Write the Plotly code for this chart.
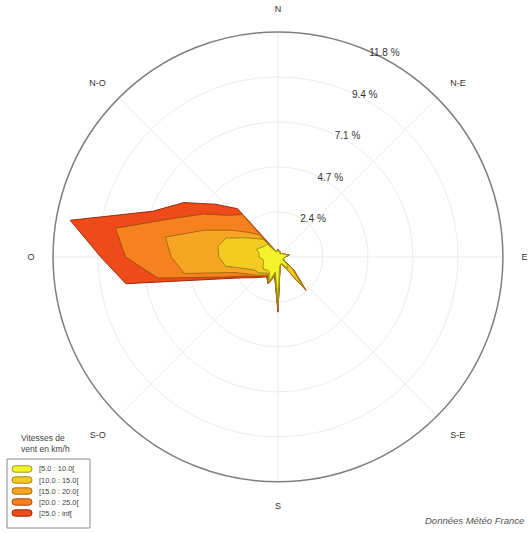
import numpy as np
import plotly.graph_objects as go

# Wind directions (degrees, every 10°)
directions = list(range(0, 360, 10))

# Frequency (%) of each speed class per direction
speed_classes = ["[5.0 : 10.0[", "[10.0 : 15.0[", "[15.0 : 20.0[", "[20.0 : 25.0[", "[25.0 : inf["]

freq_5_10 = [0.30, 0.30, 0.30, 0.20, 0.20, 0.30, 0.30, 0.40, 0.50, 0.40, 0.30, 0.30,
             0.30, 0.60, 0.80, 0.40, 0.40, 0.50, 2.30, 0.80, 1.40, 0.90, 0.90, 1.00,
             0.90, 0.80, 0.80, 1.00, 1.00, 1.20, 1.00, 0.90, 0.90, 0.40, 0.30, 0.30]
freq_10_15 = [0.05, 0.00, 0.00, 0.00, 0.00, 0.00, 0.00, 0.00, 0.05, 0.00, 0.00, 0.00,
              0.05, 0.40, 1.30, 0.10, 0.00, 0.10, 0.30, 0.10, 0.05, 0.10, 0.20, 0.30,
              0.50, 1.00, 2.00, 2.10, 2.20, 1.70, 1.00, 0.60, 0.30, 0.05, 0.00, 0.00]
freq_15_20 = [0.05, 0.00, 0.00, 0.00, 0.00, 0.00, 0.00, 0.00, 0.05, 0.00, 0.00, 0.00,
              0.05, 0.10, 0.10, 0.00, 0.00, 0.00, 0.15, 0.10, 0.05, 0.10, 0.15, 0.20,
              0.40, 0.60, 2.20, 2.50, 2.80, 1.20, 0.80, 0.50, 0.30, 0.05, 0.00, 0.00]
freq_20_25 = [0.00, 0.00, 0.00, 0.00, 0.00, 0.00, 0.00, 0.00, 0.00, 0.00, 0.00, 0.00,
              0.00, 0.00, 0.05, 0.00, 0.00, 0.00, 0.10, 0.00, 0.00, 0.05, 0.10, 0.10,
              0.20, 0.70, 1.40, 2.40, 2.66, 1.80, 1.70, 1.40, 1.40, 0.00, 0.00, 0.00]
freq_25_inf = [0.00, 0.00, 0.00, 0.00, 0.00, 0.00, 0.00, 0.00, 0.00, 0.00, 0.00, 0.00,
               0.00, 0.00, 0.05, 0.00, 0.00, 0.00, 0.05, 0.00, 0.00, 0.05, 0.05, 0.10,
               0.20, 0.30, 1.70, 1.30, 2.41, 1.10, 1.20, 0.90, 0.40, 0.10, 0.00, 0.00]

fill_colors = ["#f4f22a", "#f3cb22", "#f6a623", "#f5821e", "#ef4a1a"]
edge_colors = ["#9a9a10", "#a08410", "#a86a10", "#a84c0c", "#9a2a08"]

radial_ticks = [2.36, 4.72, 7.08, 9.44, 11.8]
radial_labels = ["2.4 %", "4.7 %", "7.1 %", "9.4 %", "11.8 %"]
compass_angles = [0, 45, 90, 135, 180, 225, 270, 315]
compass_labels = ["N", "N-E", "E", "S-E", "S", "S-O", "O", "N-O"]

W, H = 530, 533


def px(x, y):
    """Pixel position -> paper coordinates."""
    return x / W, 1 - y / H


# Stacked (cumulative) frequencies: each class is drawn as the area up to its upper bound
stack = np.cumsum(np.array([freq_5_10, freq_10_15, freq_15_20, freq_20_25, freq_25_inf]), axis=0)

fig = go.Figure()
# Largest envelope first so the smaller classes sit on top
for i in reversed(range(len(speed_classes))):
    r = list(stack[i]) + [stack[i][0]]
    theta = directions + [directions[0]]
    fig.add_trace(go.Scatterpolar(
        r=r, theta=theta, mode="lines", fill="toself",
        fillcolor=fill_colors[i],
        line=dict(color=edge_colors[i], width=1),
        name=speed_classes[i],
        hoverinfo="skip",
        showlegend=False,
    ))

# Legend panel: framed box with rounded colour swatches, title above it
shapes = []
annotations = []
bx0, by0 = px(7, 459)
bx1, by1 = px(90, 528)
shapes.append(dict(type="rect", xref="paper", yref="paper", x0=bx0, y0=by1, x1=bx1, y1=by0,
                   line=dict(color="#8a8a8a", width=1), fillcolor="white", layer="above"))
for i, label in enumerate(speed_classes):
    cy = 469 + 11 * i
    sx0, sx1, hh, rr = 12, 32, 3.2, 3.2
    # rounded swatch path (pill shape)
    x0p, yt = px(sx0 + rr, cy - hh)
    x1p, _ = px(sx1 - rr, cy - hh)
    _, yb = px(0, cy + hh)
    xl, _ = px(sx0, cy)
    xr, _ = px(sx1, cy)
    _, ym = px(0, cy)
    path = (f"M {x0p},{yt} L {x1p},{yt} Q {xr},{yt} {xr},{ym} Q {xr},{yb} {x1p},{yb} "
            f"L {x0p},{yb} Q {xl},{yb} {xl},{ym} Q {xl},{yt} {x0p},{yt} Z")
    shapes.append(dict(type="path", xref="paper", yref="paper", path=path,
                       fillcolor=fill_colors[i], line=dict(color=edge_colors[i], width=1),
                       layer="above"))
    tx, ty = px(37, cy)
    annotations.append(dict(text=label, x=tx, y=ty, xref="paper", yref="paper",
                            xanchor="left", yanchor="middle", showarrow=False,
                            font=dict(size=7.5, color="#444")))

tx, ty = px(19, 456)
annotations.append(dict(text="Vitesses de<br>vent en km/h", x=tx, y=ty, xref="paper", yref="paper",
                        xanchor="left", yanchor="bottom", showarrow=False, align="left",
                        font=dict(size=8.5, color="#444")))
fx, fy = px(526, 528)
annotations.append(dict(text="<i>Données Météo France</i>", x=fx, y=fy, xref="paper", yref="paper",
                        xanchor="right", yanchor="bottom", showarrow=False,
                        font=dict(size=9.5, color="#555")))

fig.update_layout(
    width=W, height=H,
    margin=dict(l=0, r=0, t=0, b=0),
    paper_bgcolor="white",
    font=dict(family="Liberation Sans, Arial, sans-serif", color="#333"),
    showlegend=False,
    polar=dict(
        domain=dict(x=[0.1, 0.949], y=[0.096, 0.94]),
        bgcolor="white",
        angularaxis=dict(
            direction="clockwise", rotation=90,
            tickmode="array", tickvals=compass_angles, ticktext=compass_labels,
            showline=True, linecolor="#7f7f7f", linewidth=1.5,
            showgrid=True, gridcolor="#ececec", gridwidth=1,
            ticks="outside", ticklen=16, tickcolor="rgba(0,0,0,0)",
            tickfont=dict(size=9, color="#333"),
        ),
        radialaxis=dict(
            range=[0, 11.8],
            tickmode="array", tickvals=radial_ticks, ticktext=radial_labels,
            angle=67.5, side="clockwise", tickangle=67.5,
            showline=False, ticks="",
            showgrid=True, gridcolor="#ececec", gridwidth=1,
            tickfont=dict(size=10, color="#333"),
        ),
    ),
    shapes=shapes,
    annotations=annotations,
)

fig.write_html("out.html")
